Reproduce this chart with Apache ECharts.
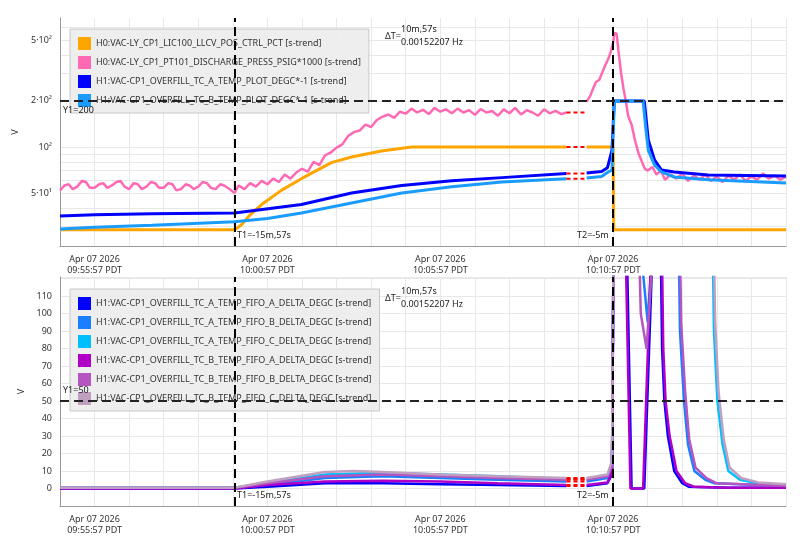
<!DOCTYPE html>
<html><head><meta charset="utf-8">
<script src="https://cdn.jsdelivr.net/npm/echarts@6/dist/echarts.min.js"></script>
<style>html,body{margin:0;padding:0;background:#fff}#c{width:804px;height:551px}</style>
</head><body><div id="c"></div>
<script>
// time: seconds relative to Apr 07 2026 09:55:57 PDT
const topNames = ['H0:VAC-LY_CP1_LIC100_LLCV_POS_CTRL_PCT [s-trend]','H0:VAC-LY_CP1_PT101_DISCHARGE_PRESS_PSIG*1000 [s-trend]','H1:VAC-CP1_OVERFILL_TC_A_TEMP_PLOT_DEGC*-1 [s-trend]','H1:VAC-CP1_OVERFILL_TC_B_TEMP_PLOT_DEGC*-1 [s-trend]'];
const botNames = ['H1:VAC-CP1_OVERFILL_TC_A_TEMP_FIFO_A_DELTA_DEGC [s-trend]','H1:VAC-CP1_OVERFILL_TC_A_TEMP_FIFO_B_DELTA_DEGC [s-trend]','H1:VAC-CP1_OVERFILL_TC_A_TEMP_FIFO_C_DELTA_DEGC [s-trend]','H1:VAC-CP1_OVERFILL_TC_B_TEMP_FIFO_A_DELTA_DEGC [s-trend]','H1:VAC-CP1_OVERFILL_TC_B_TEMP_FIFO_B_DELTA_DEGC [s-trend]','H1:VAC-CP1_OVERFILL_TC_B_TEMP_FIFO_C_DELTA_DEGC [s-trend]'];
const topColors = ['#ffa500','#ff69b4','#0000ff','#1a9cff'];
const botColors = ['#0000ff','#1a7fff','#00bfff','#b000c8','#b455c0','#c0a0c0'];

const orange = [[-60,28.7],[243,28.7],[255,31],[270,36],[290,42],[324,52],[359,62],[411,79],[446,86],[498,94],[550,100],[819,100],null,[854,100],[900,100],[901,28.7],[1200,28.7]];
const pink = [[-60,52],[-52,56],[-45,57],[-38,53],[-30,55],[-22,60],[-15,59],[-8,54],[0,54],[8,57],[15,58],[22,54],[30,56],[38,59],[45,60],[52,55],[60,53],[68,58],[75,57],[82,53],[90,55],[98,59],[105,58],[112,54],[120,54],[128,58],[135,57],[142,52],[150,53],[158,57],[165,56],[172,53],[180,55],[188,59],[195,58],[202,54],[210,53],[218,57],[225,56],[234,53],[243,50],
[250,56],[260,53],[270,58],[280,55],[290,60],[300,57],[310,62],[320,59],[330,66],[340,62],[350,68],[360,72],[370,69],[380,80],[390,76],[400,88],[410,92],[420,99],[430,104],[440,118],[450,125],[460,128],[470,140],[480,135],[490,150],[500,158],[510,163],[520,155],[530,170],[540,165],[550,178],[560,168],[570,175],[580,164],[590,180],[600,170],[610,176],[620,166],[630,178],[640,168],[650,174],[660,162],[670,177],[680,168],[690,172],[700,160],[710,176],[720,166],[730,180],[740,163],[750,174],[760,168],[770,160],[780,176],[790,166],[800,172],[810,164],[819,168],null,
[854,198],[860,215],[866,245],[870,265],[876,275],[880,300],[886,340],[892,380],[896,420],[900,480],[902,556],[906,550],[910,400],[914,300],[918,240],[922,200],[926,160],[932,140],[938,110],[944,91],[950,80],[955,72],[960,70],[968,74],[975,66],[983,70],[990,61],[1000,66],[1010,62],[1020,67],[1030,60],[1040,65],[1050,61],[1060,66],[1070,60],[1080,64],[1090,59],[1100,65],[1110,61],[1120,66],[1130,60],[1140,64],[1150,61],[1160,67],[1170,62],[1180,65],[1190,61],[1200,64]];
const blueA = [[-60,35.4],[0,36],[100,36.5],[243,37],[359,42],[446,50],[533,56],[620,60],[707,63],[819,67],null,[854,67.6],[880,69],[890,73],[898,95],[902,200],[954,200],[961,111],[972,82],[984,70.6],[1006,68.6],[1065,65.6],[1200,64.6]];
const blueB = [[-60,29.1],[0,29.8],[100,30.8],[243,32.4],[300,34],[359,37],[446,43],[533,50],[620,55],[707,59],[819,62],null,[854,62.7],[880,64],[890,68],[898,70.7],[902,200],[952,200],[957,129],[961,95],[972,76],[984,68.6],[1006,63.6],[1065,61],[1200,58.2]];

const fA_A = [[-60,0],[243,0],[300,1],[400,3],[500,3],[600,2.5],[700,2],[819,1.5],null,[854,1.5],[890,3],[898,8],[902,200],[920,200],[923,150],[932,0],[954,0],[975,200],[980,200],[985,80],[989,50],[995,30],[1006,10],[1020,3],[1031,1],[1100,0.5],[1200,0.5]];
const fA_B = [[-60,0.5],[243,0.5],[300,2],[400,6],[500,7],[600,6],[700,5],[819,4],null,[854,4],[890,6],[898,12],[902,200],[945,200],[950,130],[960,95],[970,150],[978,200],[1011,200],[1016,90],[1023,50],[1030,25],[1041,10],[1060,5],[1076,3],[1200,1.5]];
const fA_C = [[-60,0.5],[243,0.5],[300,3],[400,8],[500,9],[600,8],[700,7],[819,5.5],null,[854,5.5],[890,7],[898,14],[902,200],[1070,200],[1075,90],[1081,50],[1090,25],[1100,10],[1120,5],[1152,3],[1200,2]];
const fB_A = [[-60,0],[243,0],[300,2],[400,4],[500,4.5],[600,4],[700,3],[819,2],null,[854,2],[890,3.5],[898,9],[902,200],[918,200],[921,150],[930,0],[952,0],[973,200],[982,200],[987,80],[991,50],[998,30],[1010,10],[1025,3],[1040,1],[1100,0.5],[1200,0.5]];
const fB_B = [[-60,0.5],[243,0.5],[300,3],[400,7],[500,8],[600,7],[700,6],[819,5],null,[854,5],[890,7],[898,13],[902,200],[940,200],[948,100],[958,80],[970,140],[980,200],[1013,200],[1018,95],[1025,55],[1032,28],[1043,12],[1062,6],[1080,3],[1200,1.5]];
const fB_C = [[-60,0.5],[243,0.5],[300,4],[400,9.5],[450,10],[500,9.5],[600,8],[700,7],[819,6],null,[854,6],[890,8],[898,16],[902,200],[1072,200],[1077,95],[1083,55],[1092,28],[1102,12],[1122,6],[1152,3.5],[1200,2.5]];

const topData = [orange, pink, blueA, blueB];
const botData = [fA_A, fA_B, fA_C, fB_A, fB_B, fB_C];
const T1 = 243, T2 = 900, Y1top = 200, Y1bot = 50;
const topLabelVals = [50,100,200,500];
const topGridVals = [30,40,50,60,70,80,90,100,200,300,400,500,600];
const supMap = {50:'5·10¹',100:'10²',200:'2·10²',500:'5·10²'};

function fmtTime(t){
  const base = 9*3600+55*60+57 + t;
  const h = Math.floor(base/3600), m = Math.floor(base%3600/60), s = Math.round(base%60);
  const p = n => String(n).padStart(2,'0');
  return 'Apr 07 2026\n' + p(h)+':'+p(m)+':'+p(s)+' PDT';
}
function gapSeg(d){
  const i = d.indexOf(null);
  return [d[i-1], [d[i+1][0], d[i-1][1]]];
}
const lg = v => Math.log10(v);

const grids = [{left:60,right:18,top:18,height:228},{left:60,right:18,top:277,height:229}];
const xAxisBase = gi => ({
  type:'value', gridIndex:gi, min:-60, max:1200, interval:60,
  axisLine:{onZero:false,lineStyle:{color:'#999'}}, axisTick:{show:false},
  splitLine:{show:true,lineStyle:{color:'#e8e8e8'}},
  axisLabel:{fontSize:9,color:'#333',lineHeight:11,showMinLabel:false,showMaxLabel:false,
    formatter:v => (v % 300 === 0 && v>=0 && v<1200) ? fmtTime(v) : ''}
});
const series = [];
series.push({type:'line', xAxisIndex:0, yAxisIndex:0, data:[], silent:true, animation:false, z:0,
  markLine:{symbol:'none', silent:true, animation:false, label:{show:false}, z:0,
    lineStyle:{color:'#e8e8e8',type:'solid',width:1}, data:topGridVals.map(v=>({yAxis:lg(v)}))}});
topData.forEach((d,i)=>{
  series.push({name:topNames[i], type:'line', xAxisIndex:0, yAxisIndex:0, showSymbol:false, symbol:'none',
    color:topColors[i], lineStyle:{width:i===1?2.5:3}, animation:false,
    data:d.map(p=>p?[p[0],lg(p[1])]:'-')});
  series.push({type:'line', xAxisIndex:0, yAxisIndex:0, symbol:'none', silent:true, animation:false,
    lineStyle:{color:'#ff0000',type:[4,3],width:2}, data:gapSeg(d).map(p=>[p[0],lg(p[1])])});
});
botData.forEach((d,i)=>{
  series.push({name:botNames[i], type:'line', xAxisIndex:1, yAxisIndex:1, showSymbol:false, symbol:'none',
    color:botColors[i], lineStyle:{width:2.5}, animation:false,
    data:d.map(p=>p?p:'-')});
  series.push({type:'line', xAxisIndex:1, yAxisIndex:1, symbol:'none', silent:true, animation:false,
    lineStyle:{color:'#ff0000',type:[4,3],width:2}, data:gapSeg(d)});
});
const ml = (yv) => ({type:'line', xAxisIndex:0, yAxisIndex:0, data:[], silent:true, animation:false, z:10,
  markLine:{symbol:'none', silent:true, animation:false, label:{show:false}, z:10,
    lineStyle:{color:'#000',type:[9,5],width:2},
    data:[{xAxis:T1},{xAxis:T2},{yAxis:yv,lineStyle:{color:'#222',type:[9,5],width:2}}]}});
const m1 = ml(lg(Y1top));
const m2 = ml(Y1bot); m2.xAxisIndex=1; m2.yAxisIndex=1;
series.push(m1, m2);

const legendBase = (names, top) => ({data:names, orient:'vertical', left:70, top:top, itemWidth:13, itemHeight:13, z:5,
  itemGap:6, icon:'rect', backgroundColor:'rgba(236,236,236,0.9)', borderColor:'#c8c8c8', borderWidth:1,
  padding:[8,8,6,8], textStyle:{fontSize:9,color:'#333',fontFamily:'Noto Sans'}, selectedMode:false});

const txt = (x,y,t) => ({type:'text', left:x, top:y, style:{text:t, fontSize:9, fill:'#222', fontFamily:'Noto Sans'}, z:100});
const option = {
  animation:false,
  textStyle:{fontFamily:'Noto Sans'},
  grid:grids,
  legend:[legendBase(topNames,29), legendBase(botNames,289)],
  xAxis:[xAxisBase(0), xAxisBase(1)],
  yAxis:[
    {type:'value', gridIndex:0, min:lg(22.5), max:lg(697), name:'V', nameLocation:'middle', nameGap:32,
     nameTextStyle:{fontSize:9,color:'#333'},
     axisLine:{show:true,onZero:false,lineStyle:{color:'#999'}}, axisTick:{show:false},
     splitLine:{show:false},
     axisLabel:{fontSize:9,color:'#333', customValues:topLabelVals.map(lg),
       formatter:v=>{const r=Math.round(Math.pow(10,v)); return supMap[r]||'';}}},
    {type:'value', gridIndex:1, min:-10, max:121, interval:10, name:'V', nameLocation:'middle', nameGap:32,
     nameTextStyle:{fontSize:9,color:'#333'},
     axisLine:{show:true,onZero:false,lineStyle:{color:'#999'}}, axisTick:{show:false},
     splitLine:{show:true,lineStyle:{color:'#e8e8e8'}},
     axisLabel:{fontSize:9,color:'#333',formatter:v=>(v<0||v>110)?'':String(v)}}
  ],
  graphic:[
    txt(385,32,'ΔT='), txt(401,25,'10m,57s'), txt(401,38,'0.00152207 Hz'),
    txt(237,231,'T1=-15m,57s'), txt(577,231,'T2=-5m'), txt(63,106,'Y1=200'),
    txt(385,294,'ΔT='), txt(401,287,'10m,57s'), txt(401,300,'0.00152207 Hz'),
    txt(237,491,'T1=-15m,57s'), txt(577,491,'T2=-5m'), txt(63,386,'Y1=50')
  ],
  series:series
};
const chart = echarts.init(document.getElementById('c'),null,{renderer:'canvas'});
chart.setOption(option);
</script></body></html>
